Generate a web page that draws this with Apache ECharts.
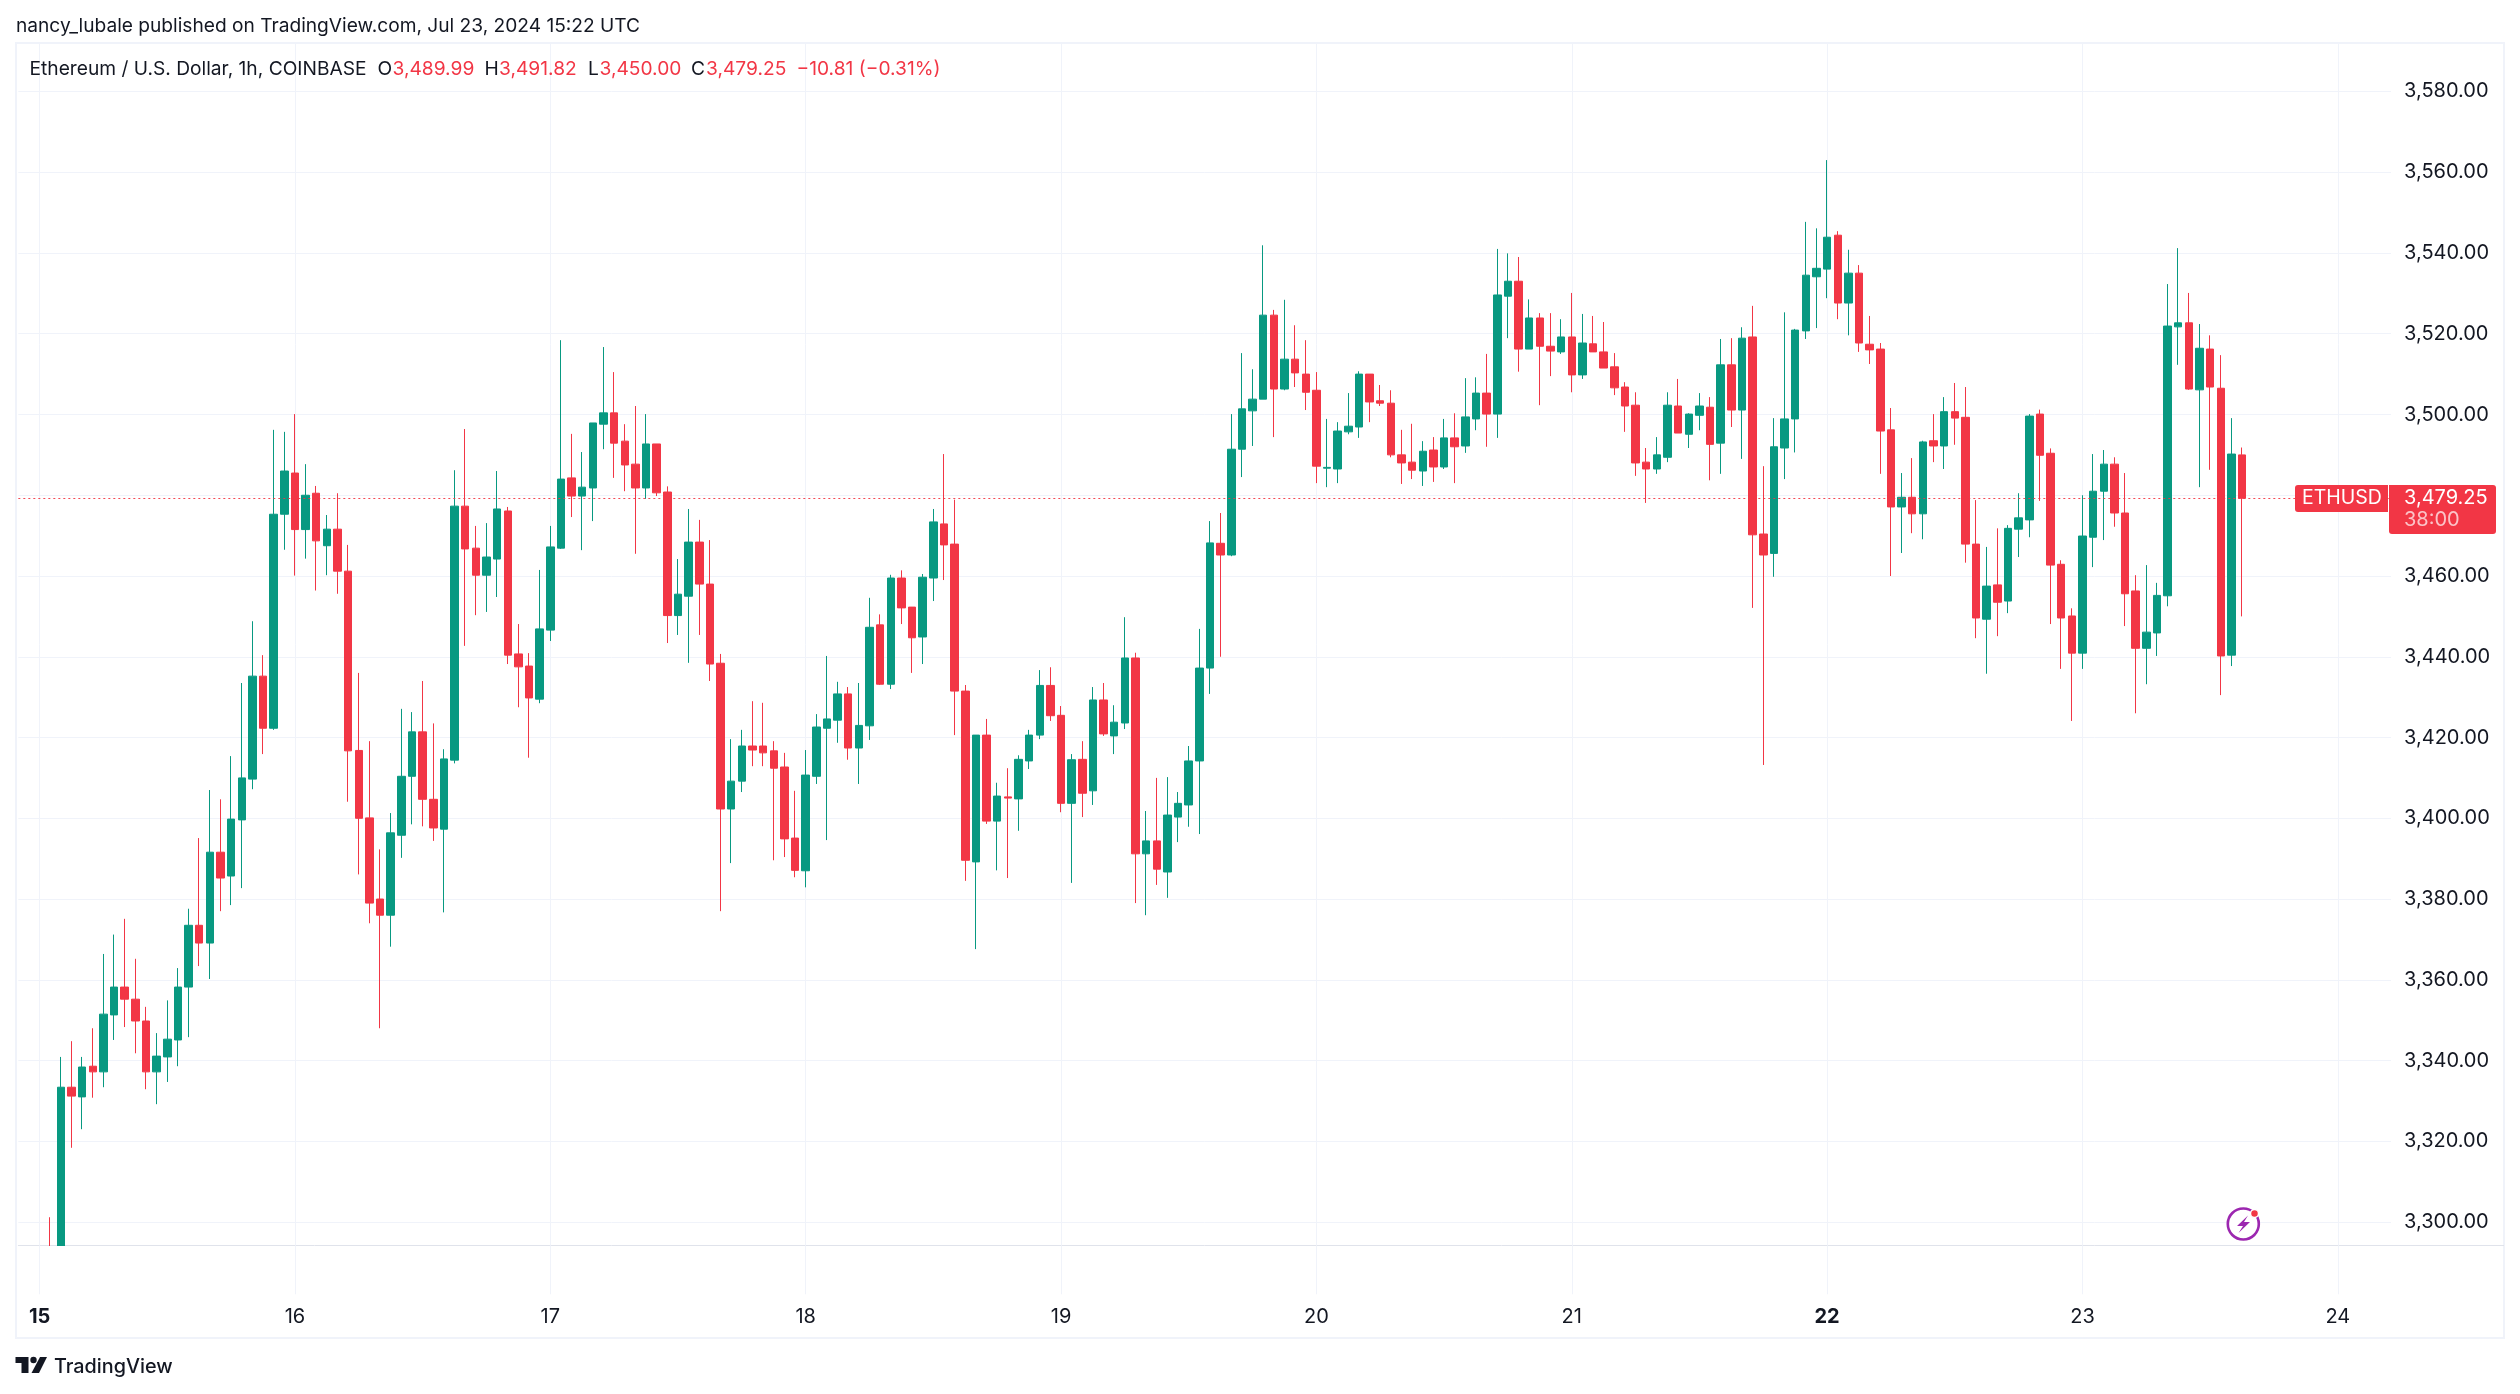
<!DOCTYPE html>
<html><head><meta charset="utf-8">
<style>html,body{margin:0;padding:0;background:#fff}#c{width:2520px;height:1394px}</style>
<script src="https://cdn.jsdelivr.net/npm/echarts@6/dist/echarts.min.js"></script>
</head><body><div id="c"></div>
<script>
const priceTicks=[3300,3320,3340,3360,3380,3400,3420,3440,3460,3480,3500,3520,3540,3560,3580];
const dayLabels=['15','16','17','18','19','20','21','22','23','24'];
const boldDays=['15','22'];
const opens=[3292,3288,3333.4,3331,3338.6,3337.2,3351.3,3358.2,3355.2,3349.8,3337.2,3340.9,3345.1,3358.2,3373.5,3369.1,3391.6,3385.7,3399.6,3409.7,3435.2,3422.3,3475.3,3485.5,3471.5,3480.5,3467.5,3471.6,3461.2,3416.8,
3400.1,3380,3376,3395.8,3410.4,3421.4,3404.7,3397.3,3414.4,3477.3,3466.9,3460.2,3464.2,3476.1,3440.7,3437.7,3429.5,3446.6,3466.9,3484.3,3479.8,3481.8,3497.6,3500.4,3493.4,3487.7,3481.8,3492.7,3480.8,3450.2,
3455,3468.4,3458,3438.4,3402.3,3409.2,3417.9,3417.9,3416.7,3412.7,3395.1,3387,3410.4,3422.3,3424.3,3430.8,3417.4,3422.9,3447.9,3433.2,3459.5,3452.3,3444.9,3459.5,3472.9,3467.9,3431.5,3389.2,3420.6,3399.3,
3405.3,3404.8,3414.2,3420.6,3432.9,3425.5,3403.7,3414.6,3406.8,3429.3,3420.4,3423.6,3439.7,3391.2,3394.4,3386.7,3400.3,3403.3,3414.2,3437.2,3468.1,3465.2,3491.4,3500.9,3503.8,3524.6,3506.3,3513.7,3510,3506,
3486.7,3486.5,3495.7,3496.9,3510,3503.4,3502.8,3490,3488.2,3486,3491.2,3487,3494.2,3492.2,3498.9,3505.3,3500.1,3529.3,3533,3516.2,3523.9,3516.9,3515.5,3519.2,3509.8,3517.5,3515.5,3511.8,3506.8,3502.3,
3488.2,3486.5,3489.4,3502.1,3495.1,3499.8,3501.8,3492.9,3512.3,3501.1,3519.2,3470.4,3465.6,3491.7,3498.9,3520.7,3534.1,3536,3544.4,3527.6,3535,3517.4,3516.2,3496.2,3477.1,3479.5,3475.4,3493.5,3492.2,3500.7,
3499.3,3467.9,3449.3,3457.8,3453.8,3471.6,3473.9,3500.1,3490.4,3462.9,3450.1,3440.9,3469.6,3481,3487.7,3475.6,3456.3,3442.1,3445.9,3455.1,3521.7,3522.7,3506.1,3516.2,3506.5,3440.4,3489.99];
const closes=[3288,3333.4,3331.2,3338.4,3337.2,3351.5,3358.2,3355.2,3349.8,3337.2,3341.1,3345.3,3358.2,3373.5,3369.1,3391.6,3385.2,3399.8,3410,3435.2,3422.3,3475.3,3486,3471.5,3480,3468.7,3471.6,3461.2,3416.7,3400,
3379,3376,3396.4,3410.4,3421.4,3404.7,3397.6,3414.7,3477.3,3466.7,3460.2,3464.7,3476.6,3440.4,3437.5,3429.8,3446.9,3467.2,3484,3479.8,3482,3497.9,3500.4,3492.9,3487.5,3481.8,3492.7,3480.6,3450.2,3455.5,
3468.4,3458,3438.2,3402.3,3409.2,3417.9,3416.9,3416.2,3412.4,3394.9,3387.1,3410.7,3422.6,3424.6,3430.8,3417.4,3423,3447.3,3433.2,3459.5,3452.1,3444.7,3459.7,3473.4,3467.7,3431.5,3389.6,3420.6,3399.3,3405.5,
3405,3414.6,3420.6,3432.9,3425.4,3403.7,3414.5,3406.2,3429.3,3420.9,3423.8,3439.7,3391.2,3394.4,3387.4,3400.8,3403.7,3414.2,3437.2,3468.2,3465.2,3491.4,3501.4,3503.8,3524.6,3506.3,3513.7,3510.3,3505.5,3487.2,
3486.9,3495.9,3497.1,3510,3503.1,3502.8,3490,3488,3486.2,3490.9,3487,3494.2,3492,3499.4,3505.3,3500.1,3529.6,3533,3516.2,3523.9,3516.9,3515.7,3519.2,3509.8,3517.7,3515.5,3511.5,3506.6,3502.1,3488,
3486.5,3490,3502.3,3495.4,3500.1,3502.1,3492.6,3512.3,3501.1,3518.9,3470.2,3465.2,3492,3498.9,3520.9,3534.5,3536.2,3543.9,3527.6,3535,3517.7,3516,3495.9,3477.1,3479.5,3475.4,3493.2,3492.2,3500.7,3499.1,
3467.9,3449.6,3457.5,3453.5,3471.8,3474.4,3499.6,3489.9,3462.7,3449.6,3440.9,3469.9,3481,3487.7,3475.6,3455.6,3442.1,3446.1,3455.2,3521.9,3522.7,3506.3,3516.4,3506.8,3440.2,3490.2,3479.25];
const lows=[3285,3285,3318.4,3323,3330.8,3333.4,3345.1,3348.3,3341.8,3332.9,3329.2,3334.7,3338.6,3345.8,3363.4,3360.2,3377,3378.5,3382.7,3407.2,3415.9,3421.9,3466.5,3460.1,3464.3,3456.4,3460.2,3455.6,3404.1,3386.1,
3374,3348,3368.2,3390.2,3398.5,3398,3394.4,3376.7,3413.6,3442.7,3450.3,3451.1,3454.8,3438.2,3427.5,3415,3428.5,3443.9,3466.7,3474.6,3466.4,3473.6,3491.4,3484.3,3481,3465.5,3479.1,3479.8,3443.4,3445.4,
3438.5,3445.4,3434,3377,3388.9,3406.5,3412.9,3412.9,3389.6,3390.4,3385.4,3382.9,3408.5,3394.6,3418.7,3414.5,3408.5,3419.4,3433,3432,3448.1,3436,3438.2,3453.8,3459,3420.6,3384.5,3367.6,3398.6,3387.1,
3385.2,3396.9,3412.2,3419.6,3424.1,3401.5,3384,3400.3,3403.3,3420.4,3415.9,3422.1,3379,3376,3383.5,3380.3,3394.1,3397.9,3396.1,3430.8,3440,3464.9,3484.5,3492.2,3503.8,3494.4,3506,3506.8,3501.1,3483,
3482,3483,3495.1,3494.2,3498.1,3502.1,3489.4,3482.8,3484,3482.3,3483.3,3486.5,3483,3490.5,3496.1,3492,3494.2,3518.9,3510.6,3516.2,3502.3,3509.5,3515,3505.5,3508.8,3515.5,3511.5,3504.8,3495.7,3484.8,
3478.1,3485.3,3488.2,3495.4,3491.7,3496.1,3483.7,3485.3,3496.9,3489,3452.1,3413.2,3459.8,3484,3490.6,3518.7,3521.4,3528.8,3523.6,3519.6,3515.5,3512.5,3485.3,3460,3465.7,3470.6,3469.1,3488.2,3486.5,3492.5,
3463.3,3444.6,3435.8,3445.1,3450.8,3464.7,3469.6,3478.6,3448.1,3437,3424.1,3437,3462.2,3468.9,3472.2,3447.6,3426,3433.2,3440.2,3452.5,3512.3,3506.1,3482,3486.3,3430.5,3437.7,3450];
const highs=[3301.2,3340.9,3344.8,3340.9,3348,3366.4,3371.2,3375.1,3365.2,3353.3,3346.8,3354.9,3362.9,3377.6,3395.1,3407,3404.7,3415.4,3433.5,3448.8,3440.4,3496.2,3495.7,3500.1,3487.7,3482.3,3475.1,3480.5,3467.7,3436,
3419.1,3392.3,3401.3,3427.1,3426.3,3434,3423.5,3417.1,3486.2,3496.4,3472.4,3473.1,3486,3477.1,3448.1,3440.9,3461.5,3472.4,3518.4,3495.2,3490.7,3497.9,3516.7,3510.5,3497.6,3502.1,3500.1,3492.7,3482.2,3464.2,
3476.6,3473.9,3468.9,3440.7,3419.6,3421.9,3429,3428.6,3419.1,3416.2,3406.8,3416.9,3425.8,3440.2,3433.8,3432.5,3433.5,3454.6,3450.5,3460.3,3461.4,3452.3,3460.5,3476.6,3490.2,3478.9,3433,3420.6,3424.6,3408.8,
3412.4,3415.6,3421.9,3436.7,3437.4,3427.8,3415.9,3419.1,3432.5,3433.5,3428,3449.8,3441,3401.8,3410,3410.2,3406.5,3417.9,3446.9,3473.6,3475.6,3500.1,3515.2,3511.2,3541.9,3525.9,3528.4,3522.1,3518.4,3510.5,
3498.9,3498.1,3505.3,3510.7,3510,3507.3,3506,3496.2,3497.7,3493.4,3494.4,3498.9,3500.3,3509,3509.2,3515,3541,3539.9,3539,3528.5,3525.1,3525.1,3523.6,3530.1,3524.9,3524.4,3522.9,3515.2,3508,3505.5,
3491.7,3494.4,3505.5,3508.8,3500.3,3505.3,3504.3,3518.7,3518.9,3521.6,3526.9,3487.2,3499.1,3525.3,3521.2,3547.7,3546.1,3563,3545.4,3540.8,3537,3524.4,3517.7,3501.6,3485.5,3489.2,3493.5,3500.1,3504.3,3507.8,
3506.8,3478.8,3467.2,3471.8,3472.6,3480.5,3500.1,3501.2,3491.6,3463.9,3452,3480,3490.2,3491.2,3489.4,3485.5,3460.2,3462.7,3458.3,3532.3,3541.2,3530.1,3522.4,3519.6,3514.7,3499.1,3491.82];
const lastClose=3479.25, lastOpen=3489.99, lastHigh=3491.82, lastLow=3450.00;
const fontFam='Inter';
const ink='#131722', red='#f23645', green='#089981', gridC='#f0f3fa';
const fmt=v=>v.toLocaleString('en-US',{minimumFractionDigits:2,maximumFractionDigits:2});

// hour positions: three empty leading slots (-2,-1,0), then candles 1..207, then empty space to 221
const firstHour=-2, lastHour=221;
const hours=[]; for(let h=firstHour;h<=lastHour;h++) hours.push(h);
const categories=hours.map(h=>(h>=0&&h%24===0)?dayLabels[h/24]:'');
const rows=hours.map(h=>{const i=h-1; return (i>=0&&i<opens.length)?[opens[i],closes[i],lows[i],highs[i]]:['-','-','-','-'];});
const isDay=(i)=>categories[i]!=='';

const T=(x,y,text,o={})=>({type:'text',z:100,x,y,style:Object.assign({text,fill:ink,font:`${o.w||400} ${o.s||19.2}px ${fontFam}`,textVerticalAlign:'middle',textAlign:o.a||'left'},o.st||{})});
const chart=echarts.init(document.getElementById('c'),null,{renderer:'canvas'});
chart.setOption({
 animation:false,backgroundColor:'#fff',
 grid:{left:18.32,top:44,width:2372.72,height:1201.3,containLabel:false},
 xAxis:{type:'category',data:categories,boundaryGap:false,
  axisLine:{show:true,onZero:false,lineStyle:{color:'#e0e3eb',width:1}},
  axisTick:{show:true,interval:isDay,length:49,inside:false,lineStyle:{color:gridC,width:1}},
  splitLine:{show:true,interval:isDay,lineStyle:{color:gridC,width:1}},
  axisLabel:{show:true,interval:isDay,margin:62,color:ink,fontFamily:fontFam,fontSize:20,
   formatter:v=>boldDays.includes(v)?`{b|${v}}`:v,
   rich:{b:{fontWeight:700,fontSize:20,fontFamily:fontFam,color:ink}}}},
 yAxis:{type:'value',position:'right',min:3294.25,max:3591.75,scale:true,
  axisLine:{show:false},
  axisTick:{show:false,customValues:priceTicks},
  splitLine:{show:true,lineStyle:{color:gridC,width:1}},
  axisLabel:{customValues:priceTicks,margin:13,color:ink,fontFamily:fontFam,fontSize:20,padding:[0,0,4,0],align:'left',formatter:v=>fmt(v)}},
 series:[{type:'candlestick',data:rows,barWidth:8,clip:true,
  itemStyle:{color:green,color0:red,borderColor:green,borderColor0:red,borderWidth:1},
  markLine:{silent:true,symbol:'none',animation:false,label:{show:false},
   lineStyle:{color:red,type:[2,3],width:1,opacity:.9},data:[{yAxis:lastClose}]}}],
 graphic:{elements:[
  // candlesticks are only clipped whole, so mask the part of the first two candles below the pane
  {type:'rect',z:50,shape:{x:42,y:1246,width:30,height:50},style:{fill:'#fff'}},
  {type:'rect',z:90,shape:{x:16,y:43,width:2488,height:1295},style:{fill:'none',stroke:gridC,lineWidth:2}},
  {type:'line',z:90,shape:{x1:2391,y1:1245.5,x2:2504,y2:1245.5},style:{stroke:'#e0e3eb',lineWidth:1}},
  T(16,26,'nancy_lubale published on TradingView.com, Jul 23, 2024 15:22 UTC',{s:19.15}),
  T(29.5,69,'Ethereum / U.S. Dollar, 1h, COINBASE'),
  T(377.5,69,'O'),T(392.5,69,fmt(lastOpen),{st:{fill:red}}),
  T(484.5,69,'H'),T(499,69,fmt(lastHigh),{st:{fill:red}}),
  T(588,69,'L'),T(599.5,69,fmt(lastLow),{st:{fill:red}}),
  T(691,69,'C'),T(706,69,fmt(lastClose),{st:{fill:red}}),
  T(796.5,69,'\u221210.81 (\u22120.31%)',{st:{fill:red}}),
  // last price tag
  {type:'rect',z:100,shape:{x:2295,y:485,width:93,height:27,r:[3,0,0,3]},style:{fill:red}},
  {type:'rect',z:100,shape:{x:2389,y:485,width:107,height:49,r:[0,3,3,3]},style:{fill:red}},
  T(2302,498,'ETHUSD',{s:19.5,st:{fill:'#fff'}}),
  T(2404,498,fmt(lastClose),{s:20,st:{fill:'#fff'}}),
  T(2404,520,'38:00',{s:20,st:{fill:'rgba(255,255,255,.7)'}}),
  // lightning badge
  {type:'circle',z:100,shape:{cx:2243.3,cy:1224,r:15.5},style:{fill:'#fff',stroke:'#9c27b0',lineWidth:2.6}},
  {type:'polygon',z:101,shape:{points:[[2248,1215.5],[2237,1226],[2243,1226],[2238.5,1233],[2250,1222],[2244,1222]]},style:{fill:'#9c27b0'}},
  {type:'circle',z:102,shape:{cx:2254.5,cy:1213.5,r:4},style:{fill:red,stroke:'#fff',lineWidth:1.5}},
  // TradingView logo
  {type:'polygon',z:100,shape:{points:[[15.5,1357],[28.5,1357],[28.5,1373],[21.5,1373],[21.5,1363],[15.5,1363]]},style:{fill:ink}},
  {type:'circle',z:100,shape:{cx:33.5,cy:1360,r:3.2},style:{fill:ink}},
  {type:'polygon',z:100,shape:{points:[[40,1357],[47,1357],[39,1373],[31.5,1373]]},style:{fill:ink}},
  T(54,1367,'TradingView',{s:19.8,w:500})
 ]}
});
</script></body></html>
